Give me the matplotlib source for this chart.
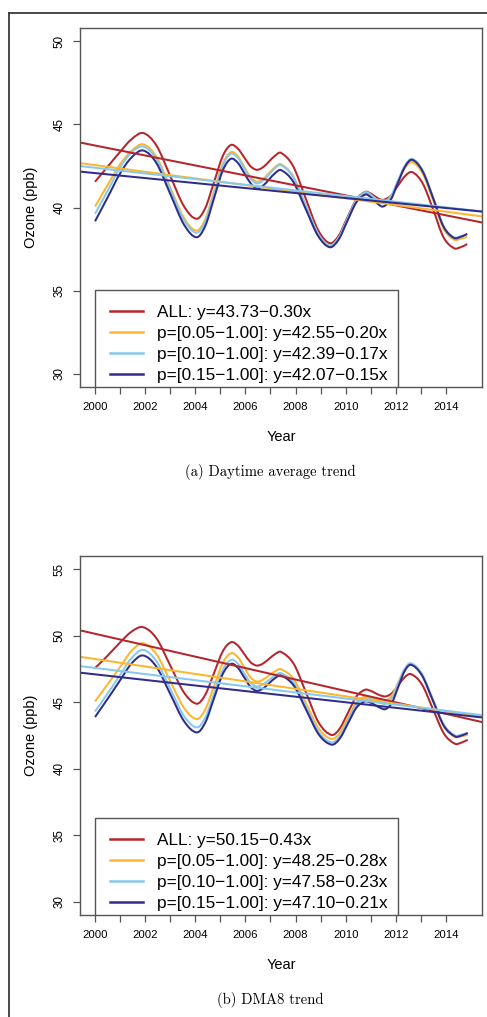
import matplotlib
matplotlib.use("Agg")
import matplotlib.pyplot as plt
from matplotlib.lines import Line2D
from matplotlib.path import Path
from matplotlib.patches import PathPatch, Rectangle
import numpy as np

# ---------------- data ----------------
series_names = ["ALL", "p=[0.05\u22121.00]", "p=[0.10\u22121.00]", "p=[0.15\u22121.00]"]
colors = ["#B5262C", "#FDB62F", "#86C9EC", "#2F2C8C"]

# (a) Daytime average
years_a = [2000.0, 2000.5, 2001.0, 2001.45, 2001.92, 2002.45, 2003.0, 2003.55, 2004.05, 2004.4,
           2004.75, 2005.1, 2005.42, 2005.7, 2005.95, 2006.2, 2006.45, 2006.7, 2006.95, 2007.2,
           2007.42, 2007.9, 2008.4, 2008.9, 2009.37, 2009.72, 2010.07, 2010.43, 2010.78, 2010.96,
           2011.14, 2011.32, 2011.5, 2011.8, 2012.08, 2012.37, 2012.65, 2013.07, 2013.5, 2013.9,
           2014.32, 2014.6, 2014.85]
all_a = [41.55, 42.45, 43.35, 44.1, 44.48, 43.73, 41.90, 40.07, 39.32, 39.97, 41.54, 43.11, 43.76,
         43.54, 43.02, 42.49, 42.27, 42.42, 42.78, 43.14, 43.29, 42.50, 40.57, 38.64, 37.85, 38.30,
         39.40, 40.49, 40.94, 40.87, 40.70, 40.53, 40.46, 40.70, 41.30, 41.89, 42.13, 41.46, 39.84,
         38.22, 37.55, 37.62, 37.80]
p05_a = [40.06, 41.35, 42.6, 43.4, 43.80, 43.04, 41.21, 39.37, 38.61, 39.30, 40.97, 42.64, 43.33,
         43.07, 42.46, 41.84, 41.55, 41.70, 42.08, 42.45, 42.6, 41.89, 40.16, 38.42, 37.71, 38.17,
         39.27, 40.37, 40.83, 40.76, 40.58, 40.39, 40.32, 40.67, 41.53, 42.38, 42.73, 42.05, 40.40,
         38.75, 38.07, 38.12, 38.25]
p10_a = [39.62, 41.0, 42.4, 43.3, 43.67, 42.91, 41.08, 39.24, 38.48, 39.17, 40.86, 42.54, 43.23,
         42.98, 42.36, 41.74, 41.45, 41.61, 42.0, 42.39, 42.55, 41.84, 40.13, 38.42, 37.71, 38.18,
         39.32, 40.45, 40.92, 40.82, 40.59, 40.36, 40.26, 40.65, 41.60, 42.54, 42.93, 42.24, 40.57,
         38.90, 38.21, 38.27, 38.41]
p15_a = [39.17, 40.6, 42.05, 43.0, 43.43, 42.67, 40.82, 38.97, 38.21, 38.90, 40.57, 42.24, 42.93,
         42.68, 42.08, 41.47, 41.15, 41.31, 41.70, 42.09, 42.25, 41.57, 39.93, 38.29, 37.61, 38.07,
         39.20, 40.32, 40.78, 40.67, 40.42, 40.17, 40.06, 40.47, 41.47, 42.46, 42.87, 42.18, 40.52,
         38.86, 38.17, 38.24, 38.41]
intercepts_a = [43.73, 42.55, 42.39, 42.07]
slopes_a = [-0.30, -0.20, -0.17, -0.15]

# (b) DMA8
years_b = [2000.0, 2000.5, 2001.0, 2001.45, 2001.91, 2002.45, 2003.0, 2003.55, 2004.06, 2004.4,
           2004.75, 2005.1, 2005.43, 2005.7, 2005.95, 2006.2, 2006.45, 2006.7, 2006.95, 2007.2,
           2007.42, 2007.93, 2008.43, 2008.93, 2009.44, 2009.77, 2010.1, 2010.43, 2010.77, 2010.98,
           2011.18, 2011.39, 2011.6, 2011.85, 2012.1, 2012.35, 2012.6, 2013.04, 2013.48, 2013.92,
           2014.36, 2014.6, 2014.87]
all_b = [47.57, 48.5, 49.5, 50.3, 50.65, 49.81, 47.77, 45.73, 44.89, 45.57, 47.21, 48.84, 49.52,
         49.26, 48.64, 48.02, 47.76, 47.91, 48.28, 48.64, 48.79, 47.88, 45.67, 43.45, 42.54, 43.04,
         44.24, 45.44, 45.94, 45.87, 45.69, 45.51, 45.44, 45.69, 46.28, 46.87, 47.12, 46.35, 44.50,
         42.65, 41.88, 41.95, 42.18]
p05_b = [45.06, 46.35, 47.65, 48.85, 49.44, 48.61, 46.59, 44.57, 43.74, 44.46, 46.22, 47.97, 48.69,
         48.38, 47.63, 46.87, 46.56, 46.70, 47.03, 47.35, 47.49, 46.72, 44.87, 43.01, 42.24, 42.71,
         43.84, 44.97, 45.44, 45.39, 45.28, 45.16, 45.11, 45.52, 46.50, 47.48, 47.89, 47.09, 45.14,
         43.19, 42.39, 42.43, 42.56]
p10_b = [44.31, 45.65, 47.05, 48.3, 48.94, 48.09, 46.03, 43.96, 43.11, 43.85, 45.65, 47.45, 48.19,
         47.90, 47.19, 46.48, 46.19, 46.34, 46.69, 47.04, 47.19, 46.43, 44.59, 42.74, 41.98, 42.47,
         43.65, 44.82, 45.31, 45.25, 45.10, 44.95, 44.89, 45.34, 46.42, 47.49, 47.94, 47.15, 45.23,
         43.30, 42.51, 42.55, 42.69]
p15_b = [43.89, 45.25, 46.65, 47.9, 48.52, 47.67, 45.63, 43.58, 42.73, 43.48, 45.31, 47.14, 47.89,
         47.59, 46.88, 46.16, 45.86, 46.03, 46.44, 46.84, 47.01, 46.25, 44.41, 42.57, 41.81, 42.28,
         43.44, 44.59, 45.06, 44.98, 44.78, 44.57, 44.49, 44.98, 46.16, 47.33, 47.82, 47.03, 45.13,
         43.22, 42.43, 42.48, 42.69]
intercepts_b = [50.15, 48.25, 47.58, 47.10]
slopes_b = [-0.43, -0.28, -0.23, -0.21]

year_ticks = list(range(2000, 2015))
year_labels = [str(y) if y % 2 == 0 else "" for y in year_ticks]
yticks_a = [30, 35, 40, 45, 50]
yticks_b = [30, 35, 40, 45, 50, 55]
ylim_a = (29.2, 50.8)
ylim_b = (29.0, 56.0)
xlim = (1999.4, 2015.44)
base_year = 2000
captions = ["(a) Daytime average trend", "(b) DMA8 trend"]

# ---------------- drawing ----------------
plt.rcParams["font.family"] = ["Liberation Sans", "DejaVu Sans"]
W, H = 487, 1017
fig = plt.figure(figsize=(W / 100, H / 100), dpi=100)

frame_col = "#555555"
AX_W, AX_H = 402.0, 359.0


def fmt_label(name, a, b):
    sign = "\u2212" if b < 0 else "+"
    return f"{name}: y={a:.2f}{sign}{abs(b):.2f}x"


def smooth_path(xs, ys):
    """Smooth (cubic Hermite / Bezier) rendering through the read points."""
    x = np.asarray(xs, float)
    y = np.asarray(ys, float)
    n = len(x)
    m = np.empty(n)
    m[1:-1] = (y[2:] - y[:-2]) / (x[2:] - x[:-2])
    m[0] = (y[1] - y[0]) / (x[1] - x[0])
    m[-1] = (y[-1] - y[-2]) / (x[-1] - x[-2])
    verts = [(x[0], y[0])]
    codes = [Path.MOVETO]
    for i in range(n - 1):
        h = x[i + 1] - x[i]
        verts += [(x[i] + h / 3, y[i] + m[i] * h / 3),
                  (x[i + 1] - h / 3, y[i + 1] - m[i + 1] * h / 3),
                  (x[i + 1], y[i + 1])]
        codes += [Path.CURVE4] * 3
    return Path(verts, codes)


def panel(rect, years, curves, intercepts, slopes, yticks, ylim, caption, cap_y):
    ax = fig.add_axes(rect)
    ax.set_xlim(*xlim)
    ax.set_ylim(*ylim)
    xx = np.array(xlim)
    handles = []
    for ys, c in zip(curves, colors):
        ax.add_patch(PathPatch(smooth_path(years, ys), facecolor="none", edgecolor=c,
                               lw=1.45, joinstyle="round", capstyle="butt"))
    for a, b, c, n in zip(intercepts, slopes, colors, series_names):
        ax.plot(xx, a + b * (xx - base_year), color=c, lw=1.45)
        handles.append(Line2D([], [], color=c, lw=1.8, label=fmt_label(n, a, b)))
    for s in ax.spines.values():
        s.set_color(frame_col)
        s.set_linewidth(1.0)
    ax.set_xticks(year_ticks)
    ax.set_xticklabels(year_labels, fontsize=8.2)
    ax.set_yticks(yticks)
    ax.set_yticklabels([str(v) for v in yticks], fontsize=8.4, rotation=90, va="center")
    ax.tick_params(axis="both", length=5, width=0.9, color=frame_col, direction="out")
    ax.tick_params(axis="x", pad=5.5)
    ax.tick_params(axis="y", pad=5.5)
    ax.set_xlabel("Year", fontsize=10.5, labelpad=13)
    ax.set_ylabel("Ozone (ppb)", fontsize=10.5, labelpad=11)
    # legend box (R-style, sitting on the bottom of the plot region)
    ax.add_patch(Rectangle((15 / AX_W, 0.0), 303 / AX_W, 97 / AX_H, transform=ax.transAxes,
                           facecolor="white", edgecolor=frame_col, lw=1.0, zorder=4))
    leg = ax.legend(handles=handles, loc="lower left",
                    bbox_to_anchor=(25.7 / AX_W, 0.0),
                    borderaxespad=0, fontsize=12.4, frameon=False,
                    handlelength=1.9, handletextpad=0.85, labelspacing=0.34,
                    borderpad=0.25)
    leg.set_zorder(5)
    fig.text(270 / W, 1 - cap_y / H, caption, family="cmr10", fontsize=10.6,
             ha="center", va="center")
    return ax


ax1 = panel([80 / W, 1 - 387 / H, AX_W / W, AX_H / H], years_a, [all_a, p05_a, p10_a, p15_a],
            intercepts_a, slopes_a, yticks_a, ylim_a, captions[0], 472)
ax2 = panel([80 / W, 1 - 915 / H, AX_W / W, AX_H / H], years_b, [all_b, p05_b, p10_b, p15_b],
            intercepts_b, slopes_b, yticks_b, ylim_b, captions[1], 1000)

# outer page border (left and top)
fig.add_artist(Line2D([9 / W, 9 / W], [0, 1 - 12.7 / H], transform=fig.transFigure,
                      color="#3a3a3a", lw=1.3))
fig.add_artist(Line2D([9 / W, 1], [1 - 12.7 / H, 1 - 12.7 / H], transform=fig.transFigure,
                      color="#3a3a3a", lw=1.3))

fig.savefig("out.png", dpi=100)
